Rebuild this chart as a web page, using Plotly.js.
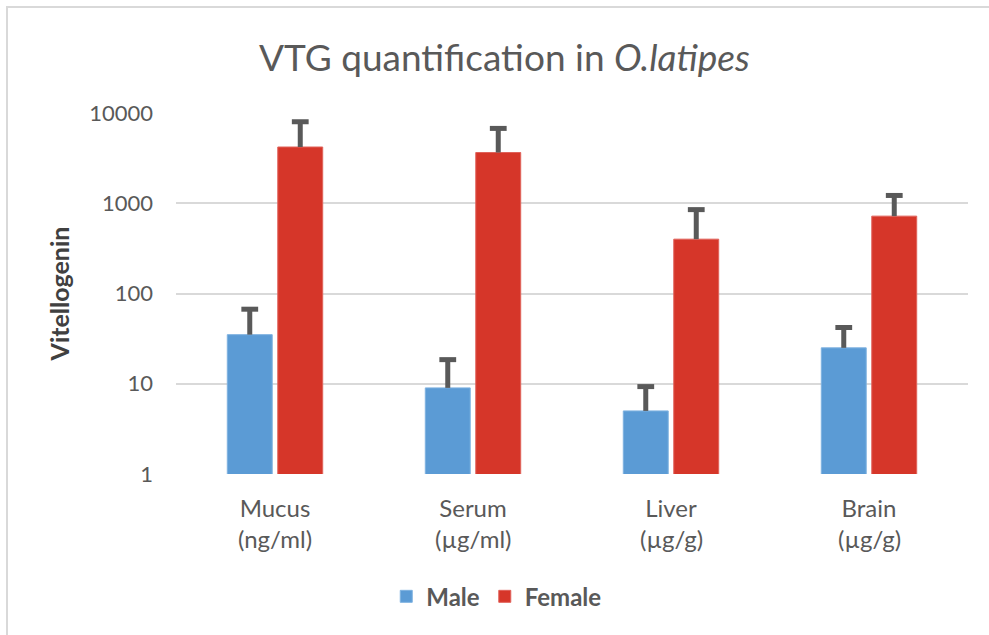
<!DOCTYPE html>
<html>
<head>
<meta charset="utf-8">
<script src="https://cdn.plot.ly/plotly-3.0.1.min.js"></script>
<style>
  body { margin: 0; background: #fff; }
  #plot { width: 989px; height: 635px; }
  #frame { position: absolute; left: 6px; top: 6px; right: 0; bottom: 0;
           border-left: 2px solid #d9d9d9; border-top: 2px solid #d9d9d9; pointer-events: none; }
</style>
</head>
<body>
<div id="plot"></div>
<div id="frame"></div>
<script>
// tissues and their units
var categories = ["Mucus", "Serum", "Liver", "Brain"];
var units = ["(ng/ml)", "(\u00b5g/ml)", "(\u00b5g/g)", "(\u00b5g/g)"];

// values
var male = [35, 9, 5, 25];
var maleErr = [32, 9.5, 4.3, 17];
var female = [4200, 3650, 400, 720];
var femaleErr = [3800, 3100, 450, 500];

var yTicks = [1, 10, 100, 1000, 10000];

var grey = "#595959";
var font = "Lato, 'Open Sans', sans-serif";

// bars with the error stem only (no caps)
var trace1 = {
    x: categories,
    y: male,
    name: "Male",
    type: "bar",
    offsetgroup: "m",
    marker: { color: "#5b9bd5", line: { color: "#7fb2e0", width: 1 } },
    error_y: { type: "data", array: maleErr, arrayminus: male.map(() => 0), symmetric: false,
               color: grey, thickness: 5, width: 0 }
};

var trace2 = {
    x: categories,
    y: female,
    name: "Female",
    type: "bar",
    offsetgroup: "f",
    marker: { color: "#d63629", line: { color: "#e0625a", width: 1 } },
    error_y: { type: "data", array: femaleErr, arrayminus: female.map(() => 0), symmetric: false,
               color: grey, thickness: 5, width: 0 }
};

// caps at the top of each error bar
var capStyle = { symbol: "line-ew", size: 12, line: { color: grey, width: 5 } };

var trace3 = {
    x: categories,
    y: male.map((v, i) => v + maleErr[i]),
    type: "scatter",
    mode: "markers",
    offsetgroup: "m",
    marker: capStyle,
    showlegend: false,
    hoverinfo: "skip"
};

var trace4 = {
    x: categories,
    y: female.map((v, i) => v + femaleErr[i]),
    type: "scatter",
    mode: "markers",
    offsetgroup: "f",
    marker: capStyle,
    showlegend: false,
    hoverinfo: "skip"
};

var data = [trace1, trace2, trace3, trace4];

// unit line under each category name
var annotations = categories.map((c, i) => ({
    x: c, xref: "x", y: -0.18, yref: "paper", yanchor: "middle",
    text: units[i], showarrow: false,
    font: { family: font, size: 24, color: grey }
}));

var layout = {
    width: 989,
    height: 635,
    paper_bgcolor: "#fff",
    plot_bgcolor: "#fff",
    margin: { l: 176, r: 21, t: 113, b: 161 },
    font: { family: font, color: grey },
    title: {
        text: "VTG quantification in <i>O.latipes</i>",
        font: { family: font, size: 37, color: grey },
        xref: "container", x: 0.51, xanchor: "center",
        yref: "container", y: 0.909, yanchor: "middle"
    },
    barmode: "group",
    bargap: 0.49,
    bargroupgap: 0.11,
    scattermode: "group",
    scattergap: 0.49,
    xaxis: {
        showgrid: false, showline: false, zeroline: false, ticks: "",
        ticklabelstandoff: 18,
        tickfont: { family: font, size: 24, color: grey }
    },
    yaxis: {
        type: "log",
        range: [0, 4],
        tickvals: yTicks,
        ticktext: yTicks.map(String),
        gridcolor: "#d9d9d9",
        gridwidth: 1.5,
        showline: false, zeroline: false, ticks: "",
        ticklabelstandoff: 22,
        tickfont: { family: font, size: 22, color: grey },
        title: { text: "<b>Vitellogenin</b>", standoff: 12,
                 font: { family: font, size: 25, color: "#404040" } }
    },
    legend: {
        orientation: "h",
        x: 0.405, xanchor: "center",
        y: -0.34, yanchor: "middle",
        font: { family: font, size: 24, color: grey, weight: "bold" },
        itemwidth: 30
    },
    annotations: annotations,
    showlegend: true
};

Plotly.newPlot("plot", data, layout, { displayModeBar: false });
</script>
</body>
</html>
